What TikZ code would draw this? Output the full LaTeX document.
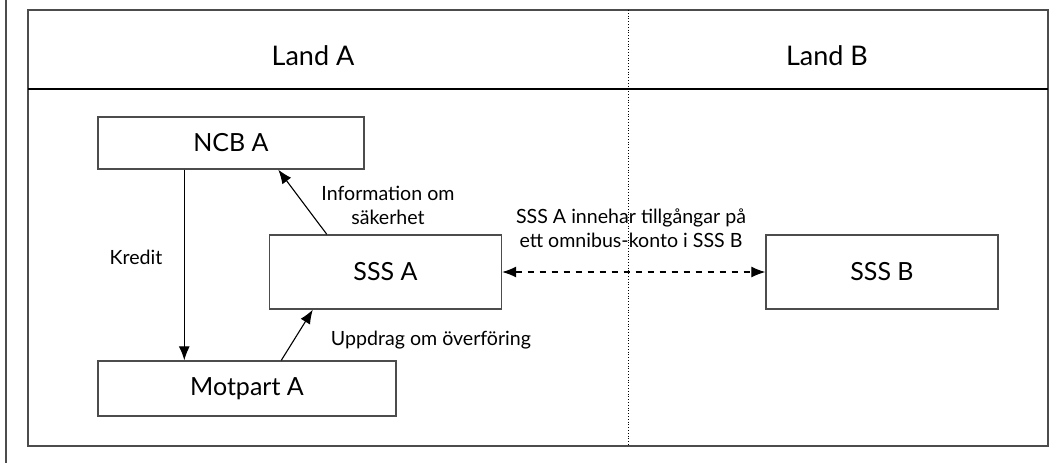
\documentclass[tikz,border=0pt]{standalone}
\usepackage{fontspec}
\setmainfont{Lato}
\usepackage{tikz}
\usetikzlibrary{arrows.meta}
\definecolor{myframe}{gray}{0.3}

\tikzset{
  boxnode/.style={draw=myframe, line width=0.7pt, inner sep=0pt, font=\fontsize{12.5}{14}\selectfont},
  headnode/.style={font=\fontsize{13.5}{15}\selectfont},
  labelnode/.style={font=\fontsize{9.8}{12}\selectfont, align=center, inner sep=0pt},
  flow/.style={-{Latex[length=7pt,width=5.5pt]}, line width=0.55pt},
}

\begin{document}
\begin{tikzpicture}[x=0.5pt,y=-0.5pt]
    \useasboundingbox (0,0) rectangle (1056,463);
         % frame
    \draw[myframe, line width=0.7pt] (6,0) -- (6,463);
    \draw[myframe, line width=0.7pt] (28,10) rectangle (1048,446);
    \draw[line width=0.7pt] (28,89) -- (1048,89);
    \draw[densely dotted, line width=0.4pt] (628,10) -- (628,446);
    \node[headnode] (landa) at (313,56) {Land A};
    \node[headnode] (landb) at (827,56) {Land B};

    % boxes
    \node[boxnode, minimum width=133pt, minimum height=26pt] (ncb) at (231,143) {NCB A};
    \node[boxnode, minimum width=116pt, minimum height=37pt] (sssa) at (385.5,272) {SSS A};
    \node[boxnode, minimum width=116pt, minimum height=37pt] (sssb) at (882,272) {SSS B};
    \node[boxnode, minimum width=149pt, minimum height=27.5pt] (motpart) at (247,388.5) {Motpart A};

    % connectors
    \draw[flow] ([xshift=43.5pt]ncb.south west) -- ([xshift=43.5pt]ncb.south west |- motpart.north);
    \draw[flow] ([xshift=29pt]sssa.north west) -- ([xshift=90.5pt]ncb.south west);
    \draw[flow] ([xshift=92pt]motpart.north west) -- ([xshift=22pt]sssa.south west);
    \draw[flow, {Latex[length=7pt,width=5.5pt]}-{Latex[length=7pt,width=5.5pt]}, dashed] (sssa.east) -- (sssb.west);

    % labels
    \node[labelnode] (kredit) at (136,257) {Kredit};
    \node[labelnode] (info) at (388,205) {Information om\\säkerhet};
    \node[labelnode] (uppdrag) at (431,340) {Uppdrag om överföring};
    \node[labelnode] (omnibus) at (631,228) {SSS A innehar tillgångar på\\ett omnibus-konto i SSS B};
\end{tikzpicture}
\end{document}
